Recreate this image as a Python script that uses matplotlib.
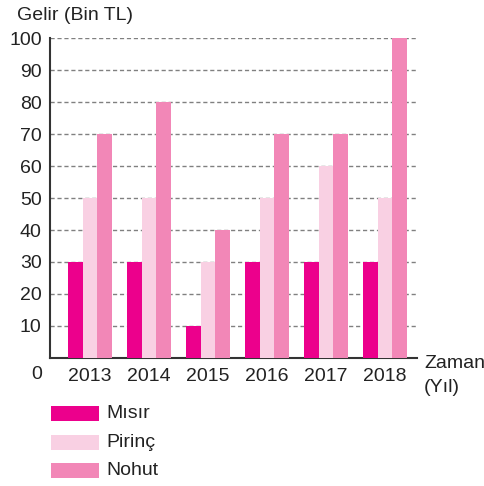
import matplotlib
matplotlib.use("Agg")
import matplotlib.pyplot as plt
import numpy as np
from matplotlib.patches import Rectangle

plt.rcParams['font.family'] = ['Liberation Sans', 'DejaVu Sans']

years = ["2013", "2014", "2015", "2016", "2017", "2018"]
misir = [30, 30, 10, 30, 30, 30]
pirinc = [50, 50, 30, 50, 60, 50]
nohut = [70, 80, 40, 70, 70, 100]
series_names = ["Mısır", "Pirinç", "Nohut"]
colors = ["#EC008C", "#F9D0E3", "#F287B7"]
yticks = [10, 20, 30, 40, 50, 60, 70, 80, 90, 100]

W, H = 485, 486
fig = plt.figure(figsize=(W / 100, H / 100), dpi=100)
ax = fig.add_axes([50 / W, 1 - 358 / H, (417 - 50) / W, (358 - 38) / H])

x = np.arange(len(years))
bw = 0.249
for i, (vals, c) in enumerate(zip([misir, pirinc, nohut], colors)):
    ax.bar(x + (i - 1) * bw, vals, width=bw, color=c, zorder=3, linewidth=0)

ax.set_xlim(-0.678, 5.54)
ax.set_ylim(0, 100)
ax.set_yticks(yticks)
ax.set_yticklabels([str(v) for v in yticks])
ax.set_xticks(x)
ax.set_xticklabels(years)
fs = 14
ax.tick_params(axis='both', length=0, labelsize=fs, colors='#222222')
ax.tick_params(axis='y', pad=6)
ax.tick_params(axis='x', pad=7)
ax.yaxis.grid(True, linestyle=(0, (3, 2)), color='#808080', linewidth=1.0, zorder=0)
ax.set_axisbelow(True)
for s in ['top', 'right']:
    ax.spines[s].set_visible(False)
for s in ['left', 'bottom']:
    ax.spines[s].set_color('#333333')
    ax.spines[s].set_linewidth(1.5)

fig.text(42 / W, 1 - 374 / H, "0", ha='right', va='center', fontsize=fs, color='#222222')
fig.text(17 / W, 1 - 15 / H, "Gelir (Bin TL)", ha='left', va='center', fontsize=fs, color='#222222')
fig.text(424 / W, 1 - 363 / H, "Zaman", ha='left', va='center', fontsize=fs, color='#222222')
fig.text(424 / W, 1 - 387 / H, "(Yıl)", ha='left', va='center', fontsize=fs, color='#222222')

leg_y = [406, 435, 463]
for name, c, yt in zip(series_names, colors, leg_y):
    fig.patches.append(Rectangle((51 / W, 1 - (yt + 15) / H), 48 / W, 15 / H,
                                 transform=fig.transFigure, color=c, linewidth=0))
    fig.text(106 / W, 1 - (yt + 7.5) / H, name, ha='left', va='center', fontsize=fs, color='#222222')

fig.savefig("out.png", dpi=100)
